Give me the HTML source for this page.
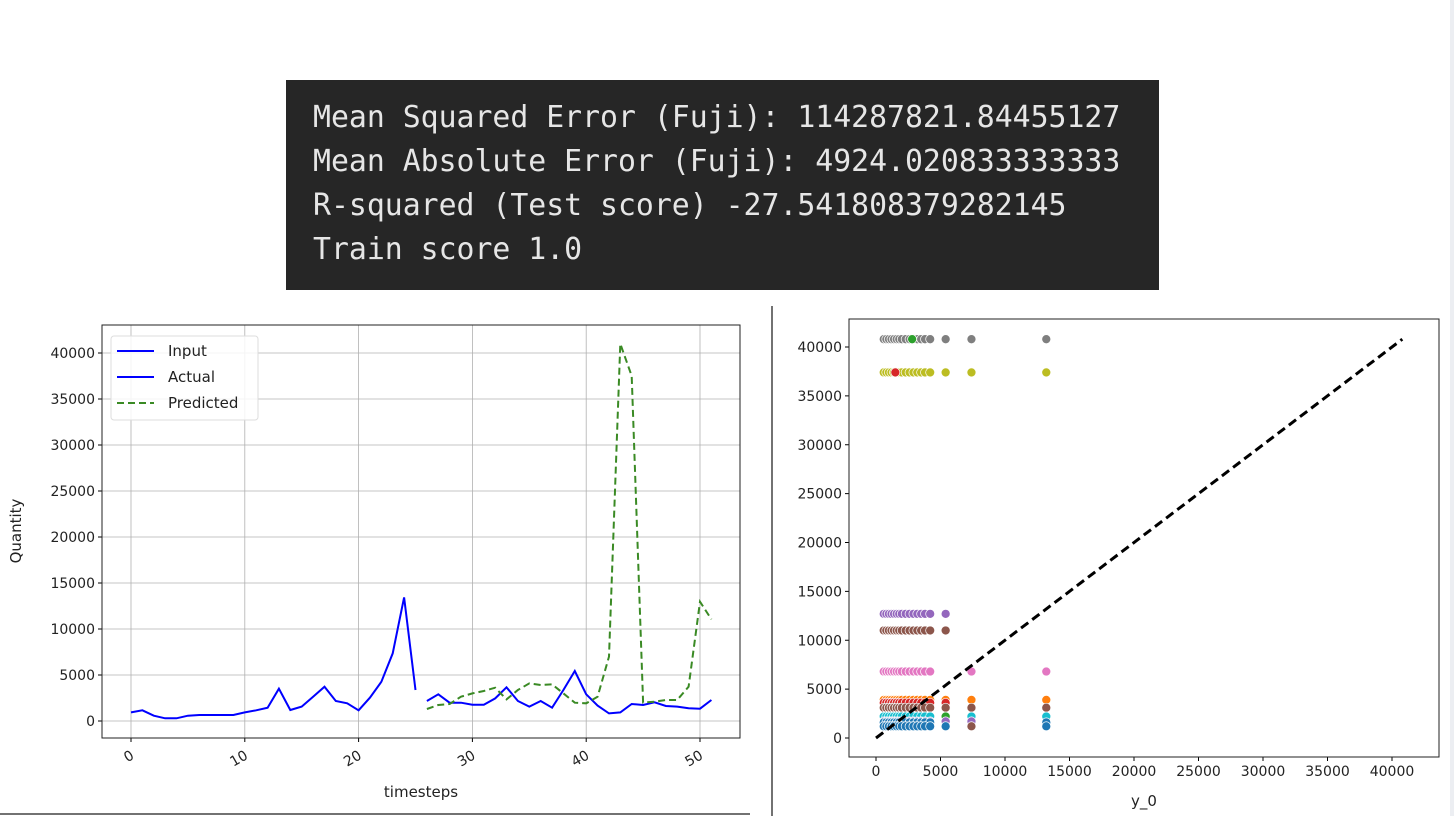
<!DOCTYPE html>
<html><head><meta charset="utf-8"><style>
html,body{margin:0;padding:0;background:#fff;width:1454px;height:816px;overflow:hidden;font-family:"DejaVu Sans","Liberation Sans",sans-serif}
#term{position:absolute;left:286px;top:80px;width:873px;height:210px;background:#262626}
#term div{position:absolute;left:27px;color:#e6e6e6;font-family:"DejaVu Sans Mono","Liberation Mono",monospace;font-size:29.8px;white-space:pre}
svg{position:absolute;left:0;top:0}
</style></head><body>
<div id="term">
<div style="top:20px">Mean Squared Error (Fuji): 114287821.84455127</div>
<div style="top:64px">Mean Absolute Error (Fuji): 4924.020833333333</div>
<div style="top:108px">R-squared (Test score) -27.541808379282145</div>
<div style="top:152px">Train score 1.0</div>
</div>
<svg id="s" width="1454" height="816"></svg>
<script>
const inputVals=[940,1160,580,290,290,580,650,650,650,650,940,1160,1450,3510,1200,1560,2640,3730,2170,1920,1160,2540,4270,7350,13440,3370];
const actualVals=[2170,2900,1990,1990,1770,1770,2460,3660,2170,1560,2170,1450,3370,5430,2900,1670,830,940,1850,1740,2030,1630,1560,1380,1340,2280];
const predVals=[1300,1740,1850,2640,3000,3260,3620,2350,3370,4090,3910,3980,3000,1990,1920,2640,7000,41000,37500,2000,2100,2280,2280,3730,12970,11050];
const xTicks=[0,10,20,30,40,50];
const yTicks=[0,5000,10000,15000,20000,25000,30000,35000,40000];
const scXcols=[600,800,1000,1200,1400,1600,1800,2000,2300,2600,2900,3200,3500,3800,4200];
const scRows=[
 ['#7f7f7f',40800,[5400,7400,13200]],
 ['#bcbd22',37400,[5400,7400,13200]],
 ['#9467bd',12700,[5400]],
 ['#8c564b',11000,[5400]],
 ['#e377c2',6800,[7400,13200]],
 ['#ff7f0e',3900,[5400,7400,13200]],
 ['#d62728',3600,[5400]],
 ['#8c564b',3100,[5400,7400,13200]],
 ['#2ca02c',2200,[5400]],
 ['#17becf',2200,[7400,13200]],
 ['#9467bd',1700,[5400,7400]],
 ['#1f77b4',1600,[13200]],
 ['#8c564b',1200,[7400]],
 ['#1f77b4',1200,[5400,13200]]
];
const highlights=[['#2ca02c',40800,2800],['#d62728',37400,1500]];
const s=document.getElementById('s');const NS='http://www.w3.org/2000/svg';
function el(t,a,txt){const e=document.createElementNS(NS,t);for(const k in a)e.setAttribute(k,a[k]);if(txt!=null)e.textContent=txt;s.appendChild(e);return e;}
let b=el('line',{x1:0,y1:814,x2:750,y2:814,stroke:'#444','stroke-width':1.5});


b=el('line',{x1:772,y1:306,x2:772,y2:816,stroke:'#444','stroke-width':1.5});


b=el('rect',{x:1450,y:0,width:4,height:816,fill:'#eceef2'});


const L={l:102,r:740,t:325,b:738};
const lx=v=>131+v*11.38, ly=v=>721-v*0.0092;
xTicks.forEach(t=>{let g=el('line',{x1:lx(t),x2:lx(t),y1:L.t,y2:L.b,stroke:'#b0b0b0','stroke-width':0.8});

el('line',{x1:lx(t),x2:lx(t),y1:L.b,y2:L.b+4,stroke:'#000'});
let tx=el('text',{x:lx(t)+4,y:L.b+20,'font-size':14,fill:'#222','text-anchor':'end',transform:`rotate(-30 ${lx(t)+4} ${L.b+20})`},String(t));
});
yTicks.forEach(t=>{let g=el('line',{x1:L.l,x2:L.r,y1:ly(t),y2:ly(t),stroke:'#b0b0b0','stroke-width':0.8});

el('line',{x1:L.l-4,x2:L.l,y1:ly(t),y2:ly(t),stroke:'#000'});
let tx=el('text',{x:L.l-7,y:ly(t)+5,'font-size':14,fill:'#222','text-anchor':'end'},String(t));
});
function line(vals,off,attrs,name){const p=vals.map((v,i)=>lx(i+off).toFixed(1)+','+ly(v).toFixed(1)).join(' ');
const e=el('polyline',Object.assign({points:p,fill:'none'},attrs));}
line(inputVals,0,{stroke:'#0000ff','stroke-width':2},'input-line');
line(actualVals,26,{stroke:'#0000ff','stroke-width':2},'actual-line');
line(predVals,26,{stroke:'#3a8a24','stroke-width':2,'stroke-dasharray':'7,4'},'predicted-line');
b=el('rect',{x:L.l,y:L.t,width:L.r-L.l,height:L.b-L.t,fill:'none',stroke:'#222','stroke-width':1});

let lg=el('rect',{x:111,y:336,width:147,height:84,fill:'#fff','fill-opacity':0.85,stroke:'#ddd',rx:3});

[['Input','#0000ff',''],['Actual','#0000ff',''],['Predicted','#3a8a24','7,4']].forEach((d,i)=>{const y=351+i*26;
el('line',{x1:117,x2:154,y1:y,y2:y,stroke:d[1],'stroke-width':2,'stroke-dasharray':d[2]});
let t=el('text',{x:168,y:y+5,'font-size':15,fill:'#222'},d[0]);});
let at=el('text',{x:421,y:797,'font-size':15,fill:'#222','text-anchor':'middle'},'timesteps');
at=el('text',{x:21,y:531,'font-size':15,fill:'#222','text-anchor':'middle',transform:'rotate(-90 21 531)'},'Quantity');
const R={l:849,r:1439,t:319,b:757};
const rx=v=>876+v*0.0129, ry=v=>738-v*0.009775;
const rxt=[0,5000,10000,15000,20000,25000,30000,35000,40000];
rxt.forEach(t=>{el('line',{x1:rx(t),x2:rx(t),y1:R.b,y2:R.b+4,stroke:'#000'});
let tx=el('text',{x:rx(t),y:R.b+19,'font-size':14,fill:'#222','text-anchor':'middle'},String(t));});
yTicks.forEach(t=>{el('line',{x1:R.l-4,x2:R.l,y1:ry(t),y2:ry(t),stroke:'#000'});
let tx=el('text',{x:R.l-7,y:ry(t)+5,'font-size':14,fill:'#222','text-anchor':'end'},String(t));});
function dot(x,y,c){const e=el('circle',{cx:rx(x),cy:ry(y),r:4.5,fill:c,stroke:'#fff','stroke-width':0.7});}
scRows.forEach(r=>{const[c,y,extra]=r;scXcols.forEach(x=>dot(x,y,c));extra.forEach(x=>dot(x,y,c));});
highlights.forEach(h=>dot(h[2],h[1],h[0]));
let dl=el('line',{x1:rx(0),y1:ry(0),x2:rx(40800),y2:ry(40800),stroke:'#000','stroke-width':3,'stroke-dasharray':'9,5'});

b=el('rect',{x:R.l,y:R.t,width:R.r-R.l,height:R.b-R.t,fill:'none',stroke:'#222','stroke-width':1});

at=el('text',{x:1144,y:806,'font-size':15,fill:'#222','text-anchor':'middle'},'y_0');
</script>
</body></html>
